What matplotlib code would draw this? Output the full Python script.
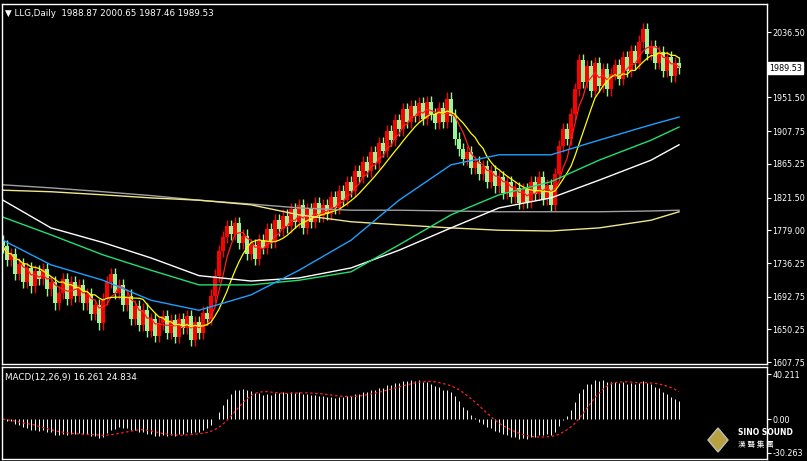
import numpy as np
import pandas as pd
import matplotlib
matplotlib.use("Agg")
import matplotlib.pyplot as plt
from matplotlib.patches import Rectangle, Polygon

closes = [
1758,1740,1748,1722,1735,1712,1730,1706,1726,1716,
1728,1702,1712,1684,1698,1716,1690,1712,1694,1708,
1684,1696,1670,1682,1658,1690,1712,1722,1698,1708,
1682,1694,1664,1680,1656,1676,1648,1664,1642,1658,
1668,1646,1662,1640,1664,1652,1668,1636,1660,1646,
1672,1664,1694,1720,1752,1770,1784,1774,1788,1762,
1772,1748,1760,1742,1766,1756,1780,1764,1792,1780,
1798,1784,1806,1790,1812,1782,1806,1790,1814,1798,
1812,1800,1822,1808,1830,1818,1842,1830,1856,1848,
1868,1856,1880,1866,1892,1882,1908,1896,1922,1910,
1936,1920,1940,1928,1944,1924,1946,1930,1918,1938,
1920,1950,1928,1898,1884,1872,1880,1860,1868,1852,
1862,1842,1856,1836,1848,1828,1842,1822,1834,1814,
1832,1816,1842,1826,1848,1820,1838,1812,1852,1888,
1910,1898,1930,1962,2000,1972,1992,1960,1996,1966,
1988,1962,1982,1994,1976,2004,1986,2012,1996,2024,
2040,2008,2018,1996,2010,1986,2004,1980,1996,1990]
first_open = 1765
wick = 8

ma_idx = [0, 12, 25, 37, 49, 62, 74, 87, 99, 112, 124, 137, 149, 162, 169]
ma_blue  = [1766,1734,1714,1688,1675,1695,1727,1766,1818,1864,1877,1877,1896,1916,1926]
ma_green = [1796,1773,1747,1727,1708,1708,1714,1725,1760,1799,1825,1842,1870,1896,1913]
ma_white = [1818,1782,1763,1743,1720,1713,1717,1730,1753,1782,1808,1821,1844,1870,1890]
ma_grey  = [1838,1834,1829,1824,1818,1813,1808,1805,1805,1804,1803,1803,1803,1804,1805]
ma_gold  = [1831,1829,1825,1821,1818,1812,1799,1790,1786,1782,1779,1778,1782,1792,1803]

price_ticks = [2036.50, 1951.50, 1907.75, 1865.25, 1821.50, 1779.00, 1736.25, 1692.75, 1650.25, 1607.75]
last_price = 1989.53
macd_ticks = [40.211, 0.0, -30.263]
title = "LLG,Daily  1988.87 2000.65 1987.46 1989.53"

c = np.array(closes, float)
o = np.concatenate([[first_open], c[:-1]])
hi = np.maximum(o, c) + wick
lo = np.minimum(o, c) - wick
n = len(c)
x = np.arange(n)

fig = plt.figure(figsize=(8.07, 4.61), dpi=100, facecolor="black")
ax = fig.add_axes([2/807, 1-364/461, 765/807, 360/461], facecolor="black")
ax2 = fig.add_axes([2/807, 1-459/461, 765/807, 92/461], facecolor="black")
for a in (ax, ax2):
    for s in a.spines.values():
        s.set_color("white"); s.set_linewidth(1)
    a.set_xlim(-0.25, 190.99)
    a.set_xticks([])
    a.yaxis.tick_right()
    a.tick_params(axis="y", colors="white", labelsize=5.8, length=3, pad=1)

ax.set_ylim(1605.2, 2072.9)
up_col, dn_col = "#ff0000", "#98f598"
for i in range(n):
    col = up_col if c[i] >= o[i] else dn_col
    ax.vlines(x[i], lo[i], hi[i], color=col, lw=1)
    b0 = min(o[i], c[i]); bh = max(abs(c[i]-o[i]), 0.8)
    ax.add_patch(Rectangle((x[i]-0.5, b0), 1.0, bh, color=col, lw=0))

s = pd.Series(c)
ax.plot(x, s.rolling(5, min_periods=1).mean(), color="#ff2020", lw=0.9)
ax.plot(x, s.rolling(10, min_periods=1).mean(), color="#ffff00", lw=0.9)
ax.plot(ma_idx, ma_grey, color="#a0a0a0", lw=1)
ax.plot(ma_idx, ma_gold, color="#f0e68c", lw=1)
ax.plot(ma_idx, ma_white, color="white", lw=1)
ax.plot(ma_idx, ma_green, color="#20e070", lw=1)
ax.plot(ma_idx, ma_blue, color="#1e9fff", lw=1)

ax.set_yticks(price_ticks)
ax.set_yticklabels([f"{t:.2f}" for t in price_ticks])
ax.text(1.003, (last_price-1605.2)/(2072.9-1605.2), f"{last_price:.2f}", transform=ax.transAxes,
        fontsize=5.8, color="black", va="center", ha="left",
        bbox=dict(boxstyle="square,pad=0.15", fc="white", ec="white"))
ax.text(0.004, 0.985, "\u25BC " + title, transform=ax.transAxes, fontsize=6.3,
        color="white", va="top", ha="left")

ema12 = s.ewm(span=12, adjust=False).mean()
ema26 = s.ewm(span=26, adjust=False).mean()
macd = ema12 - ema26
sig = macd.rolling(9, min_periods=1).mean()
ax2.set_ylim(-35.7, 46.5)
ax2.vlines(x, 0, macd, color="white", lw=0.7)
ax2.plot(x, sig, color="#ff2020", lw=0.9, ls=(0, (2, 2)))
ax2.set_yticks(macd_ticks)
ax2.set_yticklabels(["40.211", "0.00", "-30.263"])
ax2.text(0.004, 0.93, "MACD(12,26,9) 16.261 24.834", transform=ax2.transAxes,
         fontsize=6.3, color="white", va="top", ha="left")

fig.patches.append(Polygon([[718/807, 1-428/461], [708/807, 1-440/461], [718/807, 1-452/461], [728/807, 1-440/461]],
                           closed=True, transform=fig.transFigure, fc="#b8a040", ec="#c0c0c0", lw=1))
fig.text(738/807, 1-432/461, "SINO SOUND", fontsize=5.5, color="white", weight="bold", va="center", ha="left")
fig.text(738/807, 1-445/461, "漢 聲 集 團", fontsize=5.5, color="white", va="center", ha="left",
         family=["Noto Sans CJK TC", "Noto Sans CJK JP", "Noto Sans CJK SC"])

fig.savefig("out.png", dpi=100, facecolor="black")
